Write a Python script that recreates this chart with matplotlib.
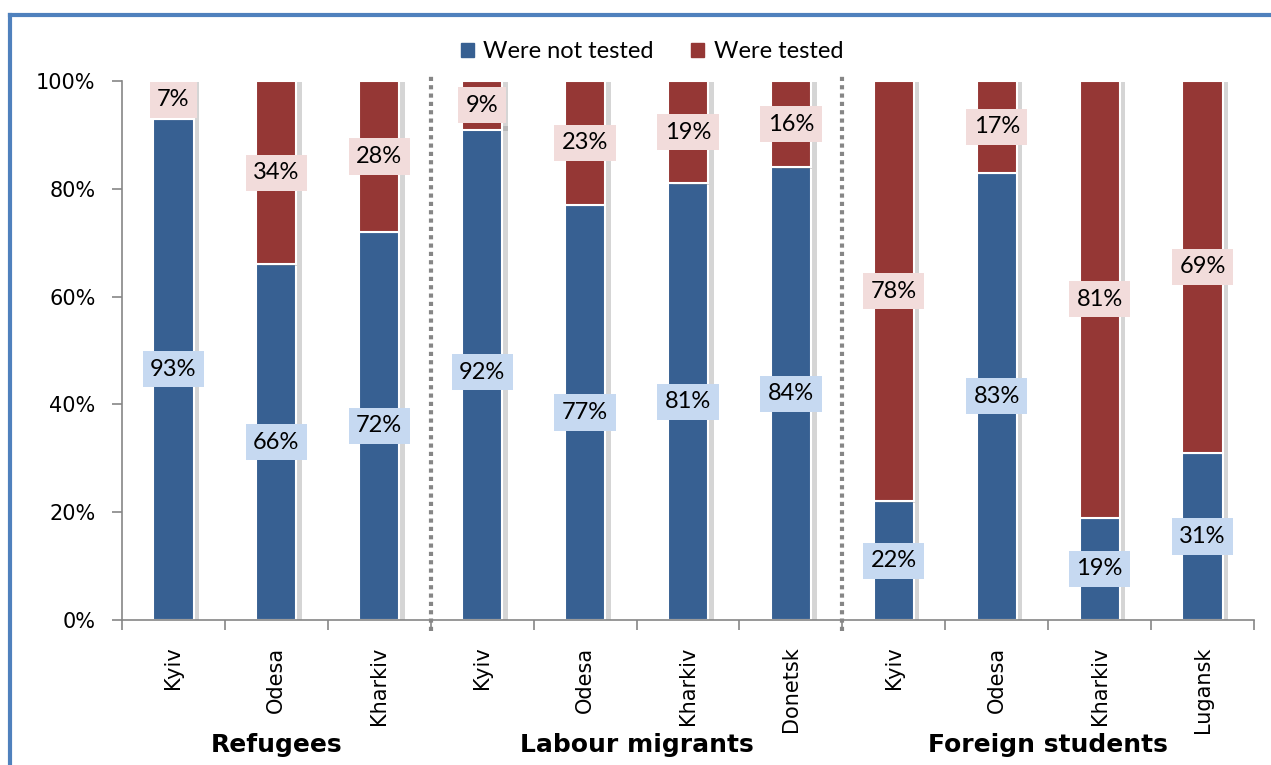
import matplotlib
matplotlib.use("Agg")
import matplotlib.pyplot as plt
import matplotlib.patheffects as pe
from matplotlib.patches import Patch
from matplotlib.lines import Line2D
import numpy as np

# data
cities = ["Kyiv", "Odesa", "Kharkiv",
          "Kyiv", "Odesa", "Kharkiv", "Donetsk",
          "Kyiv", "Odesa", "Kharkiv", "Lugansk"]
groups = ["Refugees", "Labour migrants", "Foreign students"]
group_sizes = [3, 4, 4]
not_tested = [93, 66, 72, 92, 77, 81, 84, 22, 83, 19, 31]
tested = [7, 34, 28, 9, 23, 19, 16, 78, 17, 81, 69]

blue = "#376092"
red = "#953735"
blue_box = "#c6d9f1"
red_box = "#f2dcdb"
grey = "#868686"

fig = plt.figure(figsize=(12.71, 7.65), dpi=100)
ax = fig.add_axes([122/1271, 1 - 620/765, (1254 - 122)/1271, (620 - 81)/765])

x = np.arange(len(cities))
nt = np.array(not_tested)
t = np.array(tested)
shadow = [pe.SimplePatchShadow(offset=(4, -1), shadow_rgbFace="#777777", alpha=0.3), pe.Normal()]

b1 = ax.bar(x, nt, width=0.39, color=blue, edgecolor="white", linewidth=1.5)
# red segments hang from the top (labels in the source are rounded)
b2 = ax.bar(x, t, width=0.39, bottom=100 - t, color=red, edgecolor="white", linewidth=1.5)
for r in list(b1) + list(b2):
    r.set_path_effects(shadow)

for i in range(len(cities)):
    ax.text(x[i], nt[i]/2, str(nt[i]) + "%", ha="center", va="center", fontsize=17,
            family="Lato", zorder=5,
            bbox=dict(boxstyle="square,pad=0.32", fc=blue_box, ec="none"))
    ax.text(x[i], 100 - t[i]/2, str(t[i]) + "%", ha="center", va="center", fontsize=17,
            family="Lato", zorder=5,
            bbox=dict(boxstyle="square,pad=0.32", fc=red_box, ec="none"))

ax.set_xlim(-0.5, len(cities) - 0.5)
ax.set_ylim(0, 100)
ax.set_yticks(range(0, 101, 20))
ax.set_yticklabels([str(v) + "%" for v in range(0, 101, 20)], fontsize=15)
ax.set_xticks(x)
ax.set_xticklabels(cities, rotation=90, fontsize=15, va="top")
ax.set_xticks(np.arange(-0.5, len(cities)), minor=True)
ax.tick_params(axis="x", which="major", length=0, pad=19)
ax.tick_params(axis="x", which="minor", length=7, color=grey, width=1.2)
ax.tick_params(axis="y", length=7, color=grey, width=1.2, pad=12)
for s in ["top", "right"]:
    ax.spines[s].set_visible(False)
for s in ["left", "bottom"]:
    ax.spines[s].set_color(grey)
    ax.spines[s].set_linewidth(1.2)

# dotted separators between groups
edges = np.cumsum(group_sizes)[:-1] - 0.5
for e in edges:
    ax.plot([e, e], [-2, 101.5], color=grey, linestyle=(0, (1, 1)), linewidth=3,
            clip_on=False, zorder=4)

# group labels
start = 0
for g, n in zip(groups, group_sizes):
    cx = start + (n - 1)/2
    xf = fig.transFigure.inverted().transform(ax.transData.transform((cx, 0)))[0]
    fig.text(xf, 1 - 745/765, g, ha="center", va="center", fontsize=18, fontweight="bold")
    start += n

handles = [Patch(color=blue, label="Were not tested"), Patch(color=red, label="Were tested")]
fig.legend(handles=handles, loc="center", bbox_to_anchor=(652/1271, 1 - 52/765), ncol=2,
           frameon=False, prop={"family": "Lato", "size": 17}, handlelength=0.55,
           handleheight=0.55, handletextpad=0.4, columnspacing=1.6)

# blue frame along top and left edge
fig.add_artist(Line2D([10/1271, 1], [1 - 15/765, 1 - 15/765], color="#4f81bd", linewidth=3,
                      transform=fig.transFigure))
fig.add_artist(Line2D([10/1271, 10/1271], [0, 1 - 15/765], color="#4f81bd", linewidth=3,
                      transform=fig.transFigure))

fig.savefig("out.png", dpi=100)
